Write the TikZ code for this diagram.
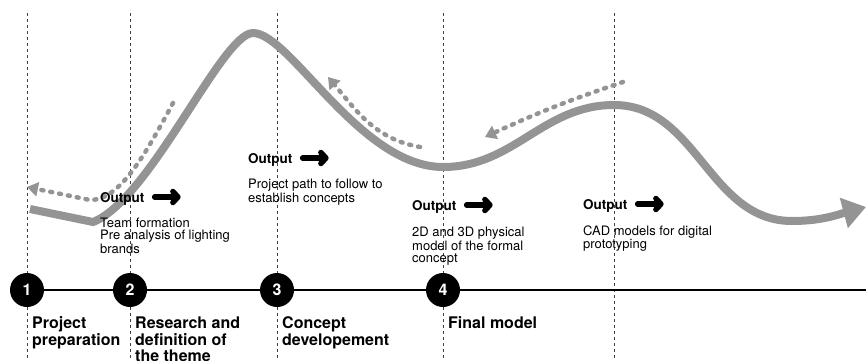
\documentclass[tikz,border=0pt]{standalone}
\usepackage{fontspec}
\setmainfont{TeX Gyre Heros}
\usetikzlibrary{arrows.meta, positioning}
\definecolor{routegray}{gray}{0.58}

\tikzset{
  stage/.style={circle, fill=black, text=white, inner sep=0pt, minimum size=34pt,
    font=\bfseries\fontsize{16}{16}\selectfont},
  stagelabel/.style={anchor=north west, align=left, inner sep=0pt,
    font=\bfseries\fontsize{16}{16.8}\selectfont},
  outlabel/.style={anchor=base west, inner sep=0pt, font=\bfseries\fontsize{13.5}{14}\selectfont},
  desc/.style={anchor=north west, align=left, inner sep=0pt, font=\fontsize{13}{12}\selectfont},
  outarrow/.style={line width=5.5pt, line cap=round,
    -{Straight Barb[length=5pt, width=11pt, line cap=round, line join=round]}},
  guide/.style={line width=0.8pt, black!75, dash pattern=on 3pt off 3pt},
  route/.style={line width=8pt, routegray, -{Triangle[length=23pt, width=30pt]}},
  loopback/.style={line width=4.5pt, routegray, line cap=round, dash pattern=on 2pt off 7pt,
    -{Triangle[length=11pt, width=14pt]}}
}

\begin{document}
\begin{tikzpicture}[x=1pt, y=1pt]
  \useasboundingbox (0,0) rectangle (866,360);

  % vertical guides
  \foreach \x in {27,130,277,443,614}
    \draw [guide] (\x,347) -- (\x,0);

  % the route and the loops back
  \draw [route] (30,151) -- (93,138) .. controls (150,160) and (222,327) .. (253,327)
    .. controls (290,327) and (360,193) .. (443,193)
    to[out=0, in=180] (614,255) to[out=0, in=180] (792,139) to[out=0, in=195] (866,153);
  \draw [loopback] (173,257) .. controls (145,205) and (120,160) .. (90,160) -- (27,173);
  \draw [loopback] (420,213) to[out=170, in=-50] (328,283);
  \draw [loopback] (623,278) to[bend right=3] (485,223);

  % timeline
  \node [stage] (s1) at (27,70) {1};
  \node [stage] (s2) at (130,70) {2};
  \node [stage] (s3) at (277,70) {3};
  \node [stage] (s4) at (443,70) {4};
  \coordinate (tend) at (866,70);
  \draw [line width=1.3pt] (s1) -- (s2) -- (s3) -- (s4) -- (tend);

  \node [stagelabel] (l1) at (32,43.5) {Project\\preparation};
  \node [stagelabel] (l2) at (135,43.5) {Research and\\definition of\\the theme};
  \node [stagelabel] (l3) at (282,43.5) {Concept\\developement};
  \node [stagelabel] (l4) at (448,43.5) {Final model};

  % outputs
  \node [outlabel] (o1) at (100,158) {Output};
  \draw [outarrow] ([xshift=10pt, yshift=5pt]o1.base east) -- ++(26,0);
  \node [desc] (d1) at ([yshift=-16pt]o1.base west) {Team formation\\Pre analysis of lighting\\brands};

  \node [outlabel] (o2) at (248,197) {Output};
  \draw [outarrow] ([xshift=10pt, yshift=5pt]o2.base east) -- ++(26,0);
  \node [desc] (d2) at ([yshift=-16pt]o2.base west) {Project path to follow to\\establish concepts};

  \node [outlabel] (o3) at (412,150) {Output};
  \draw [outarrow] ([xshift=10pt, yshift=5pt]o3.base east) -- ++(26,0);
  \node [desc] (d3) at ([yshift=-17pt]o3.base west) {2D and 3D physical\\model of the formal\\concept};

  \node [outlabel] (o4) at (583,151) {Output};
  \draw [outarrow] ([xshift=10pt, yshift=5pt]o4.base east) -- ++(26,0);
  \node [desc] (d4) at ([yshift=-17pt]o4.base west) {CAD models for digital\\prototyping};
\end{tikzpicture}
\end{document}
